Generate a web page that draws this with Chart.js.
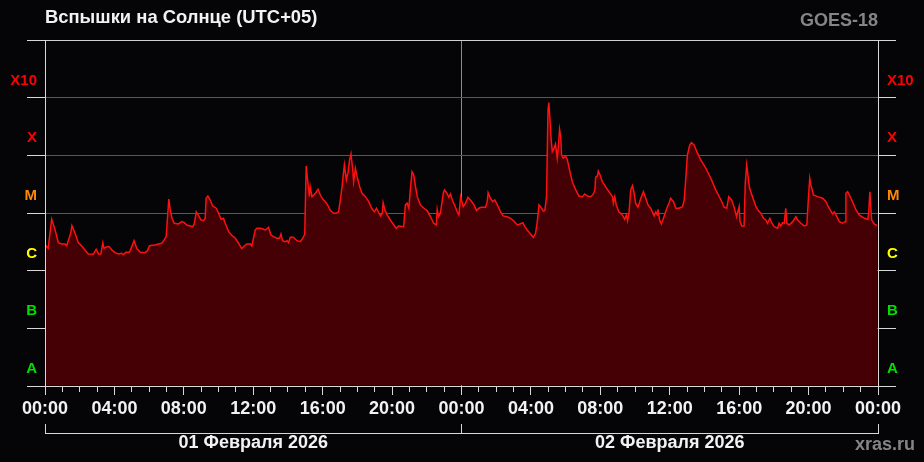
<!DOCTYPE html>
<html lang="ru">
<head>
<meta charset="utf-8">
<title>Вспышки на Солнце</title>
<script src="https://cdn.jsdelivr.net/npm/chart.js@4.4.1/dist/chart.umd.min.js"></script>
<style>
  html, body { margin: 0; padding: 0; background: #050407; }
  canvas { display: block; }
</style>
</head>
<body>
<canvas id="flares" width="924" height="462"></canvas>
<script>
// minutes since 01.02.2026 00:00 (UTC+05)
const times = [
  0, 11, 23, 35, 46, 58, 69, 75, 89, 93, 104, 115, 127, 138, 150, 167, 177, 185, 193, 200,
  204, 214, 222, 231, 242, 254, 265, 271, 280, 292, 300, 308, 317, 329, 346, 354, 361, 369, 381, 392,
  404, 412, 419, 423, 428, 433, 439, 447, 461, 473, 482, 490, 502, 511, 516, 523, 531, 539, 548, 554,
  557, 563, 571, 580, 592, 600, 609, 617, 623, 635, 646, 658, 669, 680, 689, 698, 710, 715, 727, 733,
  744, 756, 762, 773, 781, 790, 802, 811, 816, 821, 831, 837, 842, 848, 859, 871, 883, 891, 898, 903,
  908, 914, 917, 923, 935, 944, 952, 961, 969, 977, 987, 998, 1007, 1015, 1021, 1027, 1035, 1042, 1048, 1053,
  1058, 1064, 1067, 1073, 1079, 1088, 1096, 1108, 1119, 1131, 1139, 1146, 1154, 1160, 1166, 1169, 1175, 1183, 1194, 1206,
  1214, 1223, 1240, 1246, 1252, 1258, 1263, 1269, 1275, 1281, 1287, 1298, 1310, 1321, 1333, 1344, 1353, 1356, 1361, 1367,
  1377, 1381, 1390, 1396, 1402, 1408, 1416, 1425, 1431, 1437, 1446, 1454, 1462, 1471, 1483, 1492, 1500, 1508, 1523, 1529,
  1532, 1540, 1548, 1555, 1564, 1575, 1584, 1598, 1610, 1621, 1633, 1642, 1652, 1659, 1667, 1679, 1688, 1696, 1702, 1708,
  1713, 1723, 1728, 1734, 1739, 1742, 1746, 1750, 1754, 1760, 1765, 1771, 1774, 1779, 1783, 1786, 1792, 1800, 1806, 1815,
  1823, 1835, 1846, 1858, 1866, 1875, 1887, 1896, 1901, 1904, 1910, 1913, 1919, 1927, 1938, 1950, 1962, 1965, 1970, 1975,
  1984, 1996, 2004, 2010, 2014, 2019, 2025, 2031, 2036, 2042, 2050, 2060, 2069, 2077, 2085, 2094, 2106, 2112, 2117, 2119,
  2125, 2131, 2140, 2150, 2158, 2163, 2173, 2181, 2192, 2204, 2210, 2215, 2221, 2229, 2235, 2244, 2256, 2267, 2285, 2302,
  2319, 2337, 2348, 2357, 2364, 2374, 2382, 2391, 2400, 2403, 2409, 2417, 2421, 2426, 2431, 2436, 2446, 2458, 2466, 2475,
  2484, 2492, 2498, 2506, 2513, 2521, 2533, 2538, 2544, 2550, 2556, 2561, 2565, 2573, 2585, 2596, 2602, 2613, 2625, 2634,
  2639, 2644, 2648, 2657, 2671, 2689, 2700, 2711, 2723, 2729, 2735, 2746, 2758, 2766, 2769, 2775, 2781, 2792, 2804, 2815,
  2833, 2845, 2848, 2852, 2855, 2858, 2867, 2879
];

// X-ray flux in units of 1e-6 W/m2 (C1 = 1, M1 = 10, X1 = 100)
const flux = [
  2.8, 2.44, 7.8, 5.1, 3.06, 2.9, 2.9, 2.7, 4.5, 6.0, 4.45, 3.06, 2.68, 2.29, 1.95, 1.93, 2.35, 1.95, 1.93, 3.06,
  2.44, 2.61, 2.61, 2.29, 2.05, 1.95, 2.0, 1.9, 2.08, 2.08, 2.61, 3.31, 2.44, 2.08, 2.05, 2.22, 2.68, 2.76, 2.79, 2.9,
  2.99, 3.41, 3.89, 7.57, 17.5, 11.3, 8.1, 6.64, 6.45, 7.08, 6.8, 6.2, 5.96, 5.8, 6.45, 10.5, 9.0, 7.57, 7.36, 8.1,
  18, 19.7, 16.8, 13.2, 12.1, 9.9, 7.78, 8.1, 6.64, 4.75, 4.11, 3.65, 2.99, 2.41, 2.68, 2.9, 2.9, 2.68, 5.08, 5.43,
  5.43, 5.22, 5.08, 5.66, 4.16, 3.89, 3.65, 3.65, 4.33, 3.31, 3.18, 3.31, 3.06, 3.79, 3.79, 3.31, 3.18, 3.65, 4.28, 65,
  37.4, 19.2, 28.6, 19.2, 22, 25.8, 20.5, 17.3, 15.7, 13.8, 11, 9.9, 9.9, 10.5, 16.8, 28.6, 68, 37.4, 52, 83,
  106, 55.7, 34.9, 59.7, 42.7, 28.6, 22, 19.2, 15.7, 11.7, 10.5, 12.1, 10.1, 8.9, 9.9, 15.1, 11.3, 9.25, 7.57, 6.2,
  5.43, 5.96, 5.8, 13.8, 14.8, 12.1, 25.1, 52, 45.6, 28.6, 19.2, 13.8, 12.1, 11, 8.6, 6.64, 6.2, 11.6, 8.6, 9.9,
  22, 25.1, 22, 18.7, 21.4, 16.8, 13.8, 10.5, 9.25, 19.2, 12.9, 14.8, 18.7, 16.8, 13.8, 11, 12.1, 12.6, 12.6, 15.7,
  22.5, 18, 15.7, 16.8, 13.8, 10.5, 8.9, 8.6, 8.1, 7.27, 6.2, 6.45, 6.8, 5.8, 5.08, 4.33, 3.79, 4.45, 7.08, 13.8,
  12.9, 10.8, 11, 19.2, 612, 819, 410, 185, 116, 133, 157, 89, 124, 283, 211, 101, 89, 97.5, 83, 52,
  34.9, 25.1, 19.7, 19.2, 21.4, 19.7, 19.2, 21.4, 25.1, 41.7, 43.9, 53.5, 45.6, 34.9, 28.6, 23.4, 19.2, 14.8, 19.2, 13.8,
  10.5, 9.25, 7.78, 9.25, 7.36, 9.9, 25.1, 29.8, 23.4, 14.8, 12.6, 18, 23.4, 18, 13.8, 12.1, 8.9, 10.5, 9.25, 11.6,
  7.57, 6.45, 8.6, 12.1, 15.1, 18, 15.7, 12.1, 12.1, 12.9, 16.8, 37.4, 101, 151, 166, 151, 109, 83, 59.7, 40,
  25.1, 16.8, 12.6, 12.1, 19.2, 16.8, 12.9, 8.6, 12.9, 7.08, 5.96, 5.96, 32.8, 68, 42.7, 26.8, 19.2, 12.9, 11, 9.9,
  8.1, 7.57, 6.64, 8.1, 6.64, 5.8, 5.43, 6.64, 5.96, 6.8, 6.64, 12.1, 6.64, 6.2, 7.08, 8.6, 7.57, 6.64, 5.96, 6.2,
  16.8, 40, 30.6, 20.5, 19.2, 18, 15.7, 12.1, 9.6, 10.5, 9.25, 7.08, 6.64, 7.08, 22, 23.4, 20.5, 15.7, 11.3, 9.25,
  8.1, 7.78, 10.5, 23.4, 12.9, 7.57, 6.45, 5.96
];

// flare classes: band bounds and labels
const classBounds = [0.01, 0.1, 1, 10, 100, 1000, 10000];
const classLabels = ['A', 'B', 'C', 'M', 'X', 'X10'];
const classColors = ['#00e000', '#00e000', '#ffff00', '#ff8800', '#ff0000', '#ff0000'];

const timeLabels = ['00:00', '04:00', '08:00', '12:00', '16:00', '20:00', '00:00',
                    '04:00', '08:00', '12:00', '16:00', '20:00', '00:00'];
const dayTicks = [720, 2160];
const dayLabels = ['01 Февраля 2026', '02 Февраля 2026'];

const FONT = "'Liberation Sans', Arial, sans-serif";
const hourTicks = [];
for (let m = 0; m <= 2880; m += 60) hourTicks.push(m);

const points = times.map((t, i) => ({ x: t, y: flux[i] }));

// title, satellite name and site caption
const captions = {
    id: 'captions',
    afterDraw(chart) {
        const ctx = chart.ctx;
        ctx.save();
        ctx.font = 'bold 18.4px ' + FONT;
        ctx.fillStyle = '#f2f2f2';
        ctx.textAlign = 'left';
        ctx.fillText('Вспышки на Солнце (UTC+05)', 45, 23);
        ctx.font = 'bold 18px ' + FONT;
        ctx.fillStyle = '#858585';
        ctx.textAlign = 'right';
        ctx.fillText('GOES-18', 878, 26);
        ctx.fillText('xras.ru', 915, 450);
        ctx.restore();
    }
};

function classAxis(position) {
    const left = position === 'left';
    return {
        type: 'logarithmic',
        position: position,
        min: classBounds[0],
        max: classBounds[classBounds.length - 1],
        afterBuildTicks: s => { s.ticks = classBounds.map(v => ({ value: v })); },
        afterFit: s => { s.width = left ? 45 : 46; },
        grid: {
            drawOnChartArea: left,
            color: c => (c.index === 0 || c.index === classBounds.length - 1) ? '#d0d0d0' : '#575757',
            tickLength: 18,
            tickColor: '#d8d8d8'
        },
        border: { color: '#d8d8d8' },
        ticks: {
            autoSkip: false,
            padding: left ? -10 : -9,
            labelOffset: -17,
            color: c => classColors[c.index] || 'rgba(0,0,0,0)',
            font: { family: FONT, size: 15, weight: 'bold' },
            callback: (v, i) => classLabels[i] || ''
        }
    };
}

new Chart(document.getElementById('flares'), {
    type: 'line',
    data: {
        datasets: [{
            data: points,
            borderColor: '#ff1010',
            borderWidth: 1.5,
            backgroundColor: '#440004',
            fill: 'start',
            pointRadius: 0,
            tension: 0,
            clip: { left: -1, top: 0, right: -1, bottom: -1 }
        }]
    },
    options: {
        responsive: false,
        animation: false,
        layout: { padding: { top: 40, left: 0, right: 0, bottom: 0 } },
        plugins: { legend: { display: false }, tooltip: { enabled: false } },
        scales: {
            x: {
                type: 'linear',
                position: 'bottom',
                min: 0,
                max: 2880,
                weight: 0,
                z: 1,
                afterBuildTicks: s => { s.ticks = hourTicks.map(v => ({ value: v })); },
                afterFit: s => { s.height = 47; },
                grid: {
                    color: c => (c.tick && c.tick.value === 1440) ? '#8c8c8c' : 'rgba(0,0,0,0)',
                    tickLength: 9,
                    tickColor: '#d8d8d8',
                    tickBorderDash: c => (c.tick && c.tick.value % 240 === 0) ? [] : [5, 20]
                },
                border: { color: '#d8d8d8' },
                ticks: {
                    autoSkip: false,
                    maxRotation: 0,
                    padding: 3,
                    color: '#f2f2f2',
                    font: { family: FONT, size: 18, weight: 'bold' },
                    callback: v => v % 240 === 0 ? timeLabels[v / 240] : ''
                }
            },
            x2: {
                type: 'linear',
                position: 'bottom',
                min: 0,
                max: 2880,
                weight: 1,
                afterBuildTicks: s => { s.ticks = dayTicks.map(v => ({ value: v })); },
                afterFit: s => { s.height = 29; },
                grid: {
                    offset: true,
                    drawOnChartArea: false,
                    tickLength: -9,
                    tickColor: '#d8d8d8'
                },
                border: { color: '#d8d8d8' },
                ticks: {
                    autoSkip: false,
                    maxRotation: 0,
                    padding: 8,
                    color: '#f2f2f2',
                    font: { family: FONT, size: 18, weight: 'bold' },
                    callback: (v, i) => dayLabels[i]
                }
            },
            y: classAxis('left'),
            y2: classAxis('right')
        }
    },
    plugins: [captions]
});
</script>
</body>
</html>
